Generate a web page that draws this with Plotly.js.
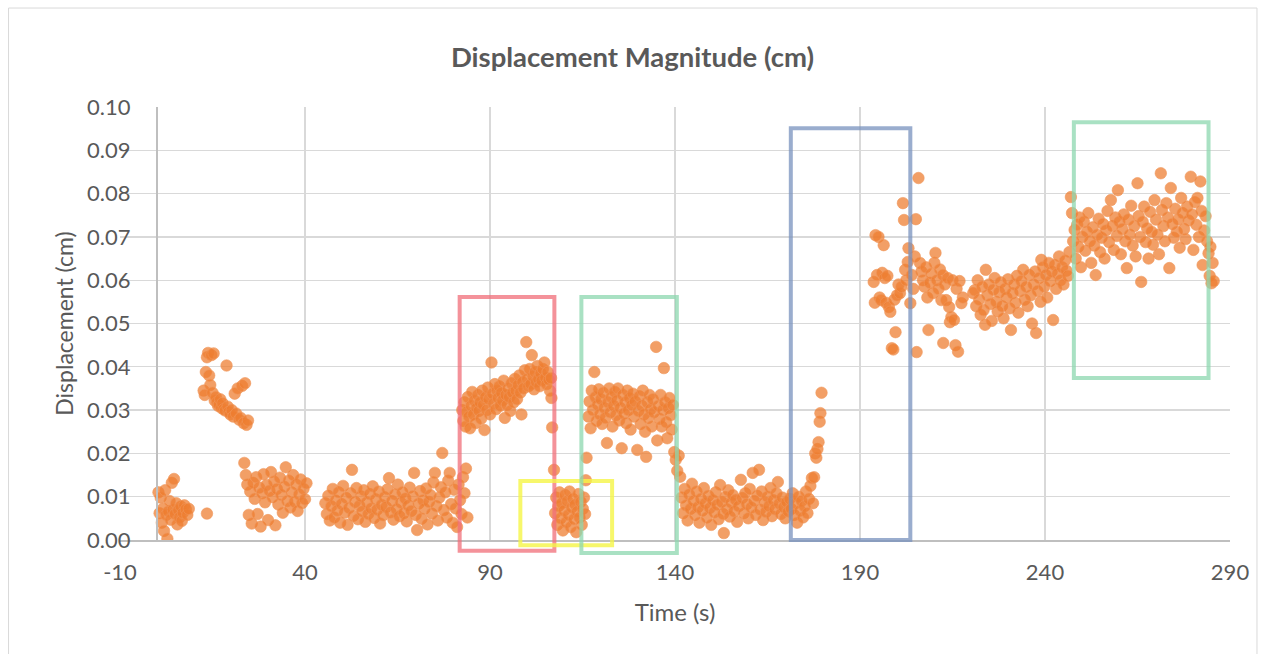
<!DOCTYPE html>
<html>
<head>
<meta charset="utf-8">
<script src="https://cdn.plot.ly/plotly-3.0.1.min.js"></script>
<style>
  html, body { margin: 0; padding: 0; background: #ffffff; }
  #chart { width: 1265px; height: 654px; }
</style>
</head>
<body>
<div id="chart"></div>
<script>
// Displacement magnitude samples, grouped by phase of the test run.
// Each phase: time in seconds and displacement in cm.
const restStartT = [0.4,0.7,1.0,1.3,1.6,1.9,2.2,2.5,2.8,3.1,3.4,3.7,4.0,4.3,4.6,4.9,5.2,5.5,5.8,6.1,6.4,6.7,7.0,7.4,7.8,8.2,8.6,13.5];
const restStartD = [0.0110,0.0062,0.0098,0.0040,0.0072,0.0021,0.0115,0.0058,0.0003,0.0066,0.0090,0.0047,0.0132,0.0070,0.0141,0.0060,0.0085,0.0036,0.0069,0.0052,0.0078,0.0044,0.0063,0.0080,0.0071,0.0058,0.0072,0.0061];

const pulseOneT = [12.6,12.9,13.2,13.5,13.8,14.1,14.4,14.7,15.0,15.3,15.6,15.9,16.2,16.5,16.8,17.1,17.4,17.7,18.0,18.4,18.8,19.1,19.4,19.8,20.2,20.6,21.0,21.4,21.8,22.2,22.6,23.0,23.4,23.8,24.2,24.6];
const pulseOneD = [0.0345,0.0335,0.0388,0.0422,0.0432,0.0380,0.0358,0.0427,0.0340,0.0431,0.0322,0.0330,0.0318,0.0310,0.0312,0.0325,0.0305,0.0316,0.0302,0.0299,0.0403,0.0308,0.0296,0.0290,0.0300,0.0285,0.0338,0.0292,0.0350,0.0278,0.0282,0.0356,0.0270,0.0362,0.0266,0.0276];

const settleOneT = [23.6,24.0,24.4,24.8,25.2,25.6,26.0,26.4,26.8,27.2,27.6,28.0,28.4,28.8,29.2,29.6,30.0,30.4,30.8,31.2,31.6,32.0,32.4,32.8,33.2,33.6,34.0,34.4,34.8,35.2,35.6,36.0,36.4,36.8,37.2,37.6,38.0,38.4,38.8,39.2,39.6,40.0,40.4];
const settleOneD = [0.0178,0.0150,0.0128,0.0058,0.0112,0.0038,0.0132,0.0095,0.0145,0.0060,0.0121,0.0031,0.0108,0.0152,0.0087,0.0127,0.0046,0.0114,0.0157,0.0099,0.0135,0.0034,0.0118,0.0082,0.0144,0.0104,0.0063,0.0123,0.0168,0.0090,0.0137,0.0075,0.0110,0.0150,0.0088,0.0128,0.0067,0.0105,0.0140,0.0085,0.0118,0.0094,0.0131];

const baselineT = [45.5,45.9,46.3,46.7,47.1,47.5,47.9,48.3,48.7,49.1,49.5,49.9,50.3,50.7,51.1,51.5,51.9,52.3,52.7,53.1,53.5,53.9,54.3,54.7,55.1,55.5,55.9,56.3,56.7,57.1,57.5,57.9,58.3,58.7,59.1,59.5,59.9,60.3,60.7,61.1,61.5,61.9,62.3,62.7,63.1,63.5,63.9,64.3,64.7,65.1,65.5,65.9,66.3,66.7,67.1,67.5,67.9,68.3,68.7,69.1,69.5,69.9,70.3,70.7,71.1,71.5,71.9,72.3,72.7,73.1,73.5,73.9,74.3,74.7,75.1,75.5,75.9,76.3,76.7,77.1,77.5,77.9,78.3,78.7,79.1,79.5,79.9,80.3,80.7,81.1,81.5,81.9,82.3,82.7,83.1,83.5,83.9];
const baselineD = [0.0085,0.0060,0.0102,0.0045,0.0078,0.0118,0.0052,0.0091,0.0068,0.0110,0.0040,0.0083,0.0125,0.0063,0.0097,0.0035,0.0074,0.0108,0.0162,0.0056,0.0088,0.0120,0.0048,0.0079,0.0101,0.0066,0.0115,0.0042,0.0087,0.0060,0.0106,0.0073,0.0124,0.0051,0.0094,0.0070,0.0112,0.0038,0.0081,0.0057,0.0099,0.0076,0.0117,0.0143,0.0064,0.0090,0.0047,0.0105,0.0071,0.0128,0.0055,0.0086,0.0110,0.0062,0.0096,0.0043,0.0080,0.0121,0.0067,0.0101,0.0155,0.0058,0.0023,0.0084,0.0113,0.0049,0.0092,0.0072,0.0119,0.0036,0.0088,0.0104,0.0061,0.0133,0.0155,0.0078,0.0045,0.0098,0.0122,0.0201,0.0069,0.0110,0.0052,0.0137,0.0155,0.0083,0.0040,0.0116,0.0073,0.0030,0.0128,0.0092,0.0060,0.0145,0.0108,0.0165,0.0052];

const loadOneT = [82.5,82.8,83.1,83.4,83.7,84.0,84.3,84.6,84.9,85.2,85.5,85.8,86.1,86.4,86.7,87.0,87.3,87.6,87.9,88.2,88.5,88.8,89.1,89.4,89.7,90.0,90.4,90.7,91.0,91.3,91.6,91.9,92.2,92.5,92.8,93.1,93.4,93.7,94.0,94.3,94.6,94.9,95.2,95.5,95.8,96.1,96.4,96.7,97.0,97.3,97.6,97.9,98.2,98.5,98.8,99.1,99.4,99.8,100.1,100.4,100.7,101.0,101.3,101.6,101.9,102.2,102.5,102.8,103.1,103.4,103.7,104.0,104.3,104.7,105.0,105.3,105.6,105.9,106.2,106.5,106.6,106.8,107.3];
const loadOneD = [0.0300,0.0275,0.0318,0.0262,0.0296,0.0330,0.0285,0.0258,0.0310,0.0342,0.0290,0.0322,0.0270,0.0305,0.0335,0.0298,0.0318,0.0280,0.0345,0.0312,0.0254,0.0330,0.0300,0.0352,0.0325,0.0290,0.0410,0.0338,0.0315,0.0360,0.0302,0.0345,0.0328,0.0355,0.0310,0.0340,0.0322,0.0368,0.0282,0.0335,0.0312,0.0350,0.0330,0.0298,0.0362,0.0340,0.0318,0.0372,0.0345,0.0325,0.0358,0.0380,0.0340,0.0290,0.0365,0.0350,0.0392,0.0457,0.0372,0.0355,0.0395,0.0360,0.0427,0.0378,0.0348,0.0388,0.0365,0.0402,0.0372,0.0355,0.0385,0.0368,0.0395,0.0410,0.0375,0.0360,0.0388,0.0370,0.0345,0.0374,0.0328,0.0260,0.0162];

const pauseT = [107.6,107.9,108.2,108.5,108.8,109.1,109.4,109.7,110.0,110.3,110.6,110.9,111.2,111.5,111.8,112.1,112.4,112.7,113.0,113.3,113.6,113.9,114.2,114.5,114.8,115.1,115.4,115.7,115.9,116.1];
const pauseD = [0.0062,0.0098,0.0035,0.0078,0.0110,0.0050,0.0085,0.0022,0.0068,0.0104,0.0041,0.0090,0.0058,0.0112,0.0030,0.0075,0.0095,0.0048,0.0082,0.0018,0.0066,0.0106,0.0052,0.0088,0.0035,0.0072,0.0098,0.0060,0.0138,0.0190];

const loadTwoT = [116.6,116.9,117.2,117.5,117.8,118.2,118.5,118.8,119.1,119.4,119.7,120.0,120.3,120.6,120.9,121.2,121.6,121.9,122.2,122.5,122.8,123.1,123.4,123.7,124.0,124.3,124.6,124.9,125.2,125.6,125.9,126.2,126.5,126.8,127.1,127.4,127.7,128.0,128.3,128.6,128.9,129.2,129.8,130.1,130.4,130.7,131.0,131.3,131.6,131.9,132.2,132.5,132.8,133.1,133.4,133.7,134.0,134.3,134.9,135.2,135.5,135.8,136.1,136.4,136.7,137.0,137.3,137.6,137.9,138.2,138.5,138.8,139.1,139.4,139.8,140.2,140.6,141.0,141.4];
const loadTwoD = [0.0285,0.0320,0.0258,0.0345,0.0300,0.0388,0.0330,0.0275,0.0312,0.0348,0.0290,0.0325,0.0268,0.0340,0.0305,0.0282,0.0224,0.0318,0.0350,0.0295,0.0330,0.0262,0.0310,0.0342,0.0288,0.0322,0.0350,0.0276,0.0305,0.0212,0.0335,0.0292,0.0318,0.0270,0.0345,0.0300,0.0328,0.0255,0.0312,0.0338,0.0285,0.0320,0.0208,0.0298,0.0332,0.0268,0.0310,0.0345,0.0290,0.0250,0.0192,0.0318,0.0282,0.0335,0.0302,0.0262,0.0325,0.0295,0.0446,0.0230,0.0310,0.0280,0.0335,0.0262,0.0300,0.0397,0.0318,0.0272,0.0235,0.0305,0.0328,0.0288,0.0255,0.0312,0.0203,0.0185,0.0160,0.0195,0.0146];

const settleTwoT = [141.8,142.2,142.6,143.0,143.4,143.8,144.2,144.6,145.0,145.4,145.8,146.2,146.6,147.0,147.4,147.8,148.2,148.6,149.0,149.4,149.8,150.2,150.6,151.0,151.4,151.8,152.2,152.6,153.0,153.2,153.6,154.0,154.4,154.8,155.2,155.6,156.0,156.4,156.8,157.2,157.8,158.2,158.6,159.0,159.4,159.8,160.2,160.6,161.0,161.4,161.8,162.2,162.7,163.0,163.4,163.8,164.2,164.6,165.0,165.4,165.8,166.2,166.6,167.0,167.4,167.8,168.2,168.6,169.0,169.4,169.8,170.2,170.6,171.0,171.4,171.8,172.2,172.6,173.0,173.4,173.8,174.2,174.6,175.0,175.4,175.8,176.2];
const settleTwoD = [0.0098,0.0062,0.0118,0.0080,0.0045,0.0105,0.0072,0.0130,0.0090,0.0058,0.0112,0.0076,0.0040,0.0095,0.0068,0.0120,0.0085,0.0052,0.0102,0.0074,0.0035,0.0092,0.0064,0.0110,0.0081,0.0048,0.0127,0.0088,0.0060,0.0016,0.0099,0.0071,0.0115,0.0054,0.0086,0.0104,0.0066,0.0093,0.0042,0.0078,0.0139,0.0097,0.0062,0.0108,0.0083,0.0050,0.0118,0.0075,0.0155,0.0090,0.0058,0.0102,0.0162,0.0070,0.0112,0.0046,0.0087,0.0065,0.0100,0.0078,0.0120,0.0055,0.0092,0.0071,0.0108,0.0134,0.0084,0.0060,0.0098,0.0076,0.0050,0.0088,0.0066,0.0095,0.0072,0.0108,0.0058,0.0085,0.0040,0.0100,0.0068,0.0090,0.0052,0.0078,0.0112,0.0062,0.0095];

const rampT = [176.6,177.0,177.3,177.6,177.9,178.2,178.5,178.8,179.1,179.3,179.6];
const rampD = [0.0125,0.0143,0.0085,0.0145,0.0200,0.0190,0.0210,0.0226,0.0273,0.0293,0.0340];

const loadThreeT = [193.7,194.0,194.2,194.6,195.0,195.3,195.7,196.0,196.4,196.7,197.0,197.4,197.8,198.2,198.6,199.0,199.3,199.6,200.0,200.4,200.8,201.2,201.6,201.9,202.2,202.5,202.9,203.1,203.6,204.0,204.4,204.8,205.1,205.3,205.8,206.2,206.6,207.0,207.4,207.8,208.2,208.5,208.9,209.3,209.7,210.1,210.4,210.8,211.2,211.6,212.0,212.4,212.5,212.9,213.3,213.7,214.1,214.3,214.7,215.0,215.4,215.8,216.1,216.5,216.9,217.4,217.8];
const loadThreeD = [0.0596,0.0548,0.0704,0.0612,0.0700,0.0560,0.0554,0.0617,0.0681,0.0605,0.0548,0.0610,0.0538,0.0527,0.0443,0.0440,0.0555,0.0480,0.0565,0.0590,0.0570,0.0585,0.0778,0.0739,0.0624,0.0600,0.0642,0.0674,0.0547,0.0612,0.0580,0.0655,0.0741,0.0434,0.0836,0.0640,0.0620,0.0600,0.0585,0.0630,0.0560,0.0485,0.0594,0.0615,0.0570,0.0640,0.0663,0.0600,0.0580,0.0625,0.0554,0.0612,0.0455,0.0590,0.0554,0.0605,0.0538,0.0503,0.0515,0.0600,0.0508,0.0450,0.0580,0.0435,0.0598,0.0547,0.0560];

const holdT = [220.6,221.0,221.4,221.8,222.2,222.6,223.0,223.4,223.8,224.0,224.4,224.8,225.2,225.6,226.0,226.4,226.8,227.2,227.6,228.0,228.4,228.8,229.2,229.6,230.0,230.4,230.8,231.2,231.6,232.0,232.4,232.8,233.2,233.6,234.1,234.5,234.9,235.3,235.7,236.1,236.5,236.9,237.3,237.6,238.0,238.4,238.8,239.0,239.4,239.8,240.2,240.6,241.0,241.4,241.8,242.2,242.6,243.0,243.4,243.8,244.2,244.6,245.0,245.4,245.8,246.2,246.6];
const holdD = [0.0570,0.0577,0.0540,0.0600,0.0555,0.0520,0.0585,0.0531,0.0497,0.0624,0.0565,0.0590,0.0545,0.0506,0.0578,0.0605,0.0550,0.0528,0.0572,0.0595,0.0540,0.0512,0.0580,0.0560,0.0602,0.0535,0.0485,0.0570,0.0590,0.0548,0.0610,0.0525,0.0575,0.0598,0.0624,0.0555,0.0585,0.0540,0.0612,0.0565,0.0500,0.0590,0.0620,0.0478,0.0575,0.0605,0.0550,0.0647,0.0630,0.0585,0.0612,0.0560,0.0640,0.0598,0.0620,0.0508,0.0635,0.0580,0.0615,0.0655,0.0600,0.0630,0.0590,0.0645,0.0622,0.0610,0.0665];

const loadFourT = [247.0,247.3,247.6,248.0,248.3,248.7,249.0,249.3,249.7,250.1,250.5,250.9,251.3,251.7,252.1,252.5,252.9,253.3,253.7,254.1,254.5,254.9,255.3,255.7,256.1,256.5,256.9,257.3,257.8,258.2,258.6,259.0,259.4,259.7,260.1,260.5,260.9,261.3,261.7,262.1,262.5,262.9,263.3,263.7,264.1,264.5,265.0,265.3,265.7,266.0,266.4,266.8,267.2,267.6,268.0,268.4,268.8,269.2,269.6,270.0,270.4,270.8,271.3,271.6,272.0,272.4,272.8,273.2,273.6,274.0,274.4,274.8,275.2,275.6,276.0,276.4,276.8,277.2,277.6,278.0,278.4,278.8,279.4,279.7,280.1,280.5,280.9,281.2,281.6,282.0,282.3,282.6,283.0,283.4,283.8,284.2,284.5,284.7,285.0,285.3,285.6];
const loadFourD = [0.0792,0.0755,0.0690,0.0716,0.0650,0.0728,0.0677,0.0745,0.0630,0.0700,0.0735,0.0668,0.0712,0.0755,0.0690,0.0640,0.0722,0.0680,0.0612,0.0705,0.0742,0.0665,0.0698,0.0730,0.0650,0.0715,0.0760,0.0688,0.0785,0.0725,0.0670,0.0745,0.0702,0.0808,0.0735,0.0660,0.0718,0.0752,0.0690,0.0628,0.0740,0.0705,0.0772,0.0680,0.0725,0.0655,0.0824,0.0748,0.0700,0.0596,0.0735,0.0770,0.0688,0.0720,0.0650,0.0758,0.0712,0.0682,0.0785,0.0740,0.0705,0.0660,0.0847,0.0762,0.0725,0.0690,0.0778,0.0745,0.0628,0.0813,0.0730,0.0698,0.0765,0.0712,0.0740,0.0675,0.0790,0.0755,0.0718,0.0695,0.0770,0.0738,0.0839,0.0752,0.0670,0.0780,0.0728,0.0790,0.0700,0.0828,0.0760,0.0635,0.0715,0.0748,0.0690,0.0662,0.0610,0.0677,0.0593,0.0640,0.0598];

// Highlight boxes: [tStart, tEnd, dLow, dHigh, colour]
const boxStart = [81.8, 98.2, 114.7, 171.3, 247.8];
const boxEnd   = [107.4, 123.0, 140.5, 203.6, 284.2];
const boxLow   = [-0.0025, -0.0012, -0.003, 0.0, 0.0374];
const boxHigh  = [0.0561, 0.0136, 0.0561, 0.0951, 0.0965];
const boxColor = ['rgba(240,110,120,0.75)', 'rgba(245,245,70,0.8)', 'rgba(140,215,175,0.75)', 'rgba(120,145,190,0.75)', 'rgba(140,215,175,0.75)'];

const xTicks = [-10, 40, 90, 140, 190, 240, 290];
const yTicks = [0, 0.01, 0.02, 0.03, 0.04, 0.05, 0.06, 0.07, 0.08, 0.09, 0.10];

const timeAll = [].concat(restStartT, pulseOneT, settleOneT, baselineT, loadOneT, pauseT, loadTwoT, settleTwoT, rampT, loadThreeT, holdT, loadFourT);
const dispAll = [].concat(restStartD, pulseOneD, settleOneD, baselineD, loadOneD, pauseD, loadTwoD, settleTwoD, rampD, loadThreeD, holdD, loadFourD);

const X_MIN = -10, X_MAX = 290, Y_MIN = 0, Y_MAX = 0.10;
const textGrey = '#595959';
const fontFamily = 'Lato, "Open Sans", sans-serif';

const trace = {
  type: 'scatter',
  mode: 'markers',
  x: timeAll,
  y: dispAll,
  marker: {
    size: 11.5,
    color: 'rgba(237,125,49,0.74)',
    line: { width: 1, color: 'rgba(240,150,90,0.6)' }
  },
  hoverinfo: 'x+y',
  showlegend: false
};

// Boxes use x in data units and y as a fraction of the axis span so they may
// extend slightly past the zero line.
const shapes = boxStart.map((t0, i) => ({
  type: 'rect',
  xref: 'x', yref: 'paper',
  x0: t0, x1: boxEnd[i],
  y0: (boxLow[i] - Y_MIN) / (Y_MAX - Y_MIN),
  y1: (boxHigh[i] - Y_MIN) / (Y_MAX - Y_MIN),
  line: { color: boxColor[i], width: 4 },
  fillcolor: 'rgba(0,0,0,0)',
  layer: 'above'
}));

// Outer chart border
shapes.push({
  type: 'rect', xref: 'paper', yref: 'paper',
  x0: -0.1004, x1: 1.0243, y0: -0.29, y1: 1.2286,
  line: { color: '#d9d9d9', width: 1 },
  fillcolor: 'rgba(0,0,0,0)',
  layer: 'below'
});

const layout = {
  width: 1265,
  height: 654,
  margin: { l: 119.5, r: 35, t: 107, b: 114 },
  paper_bgcolor: '#ffffff',
  plot_bgcolor: '#ffffff',
  font: { family: fontFamily, color: textGrey },
  title: {
    text: '<b>Displacement Magnitude (cm)</b>',
    font: { family: fontFamily, size: 27.5, color: textGrey },
    x: 0.5, xanchor: 'center',
    y: 1 - 57 / 654, yanchor: 'middle'
  },
  xaxis: {
    range: [X_MIN, X_MAX],
    tickvals: xTicks,
    ticktext: xTicks.map(String),
    showgrid: true,
    gridcolor: '#d9d9d9',
    gridwidth: 1.3,
    zeroline: false,
    showline: true,
    linecolor: '#bfbfbf',
    linewidth: 1.5,
    ticks: '',
    ticklabelstandoff: 12,
    tickfont: { family: fontFamily, size: 22, color: textGrey },
    title: {
      text: 'Time (s)',
      font: { family: fontFamily, size: 24, color: textGrey },
      standoff: 20
    }
  },
  yaxis: {
    range: [Y_MIN, Y_MAX],
    tickvals: yTicks,
    tickformat: '.2f',
    showgrid: true,
    gridcolor: '#d9d9d9',
    gridwidth: 1.3,
    zeroline: false,
    showline: true,
    linecolor: '#bfbfbf',
    linewidth: 2,
    anchor: 'free',
    position: (0 - X_MIN) / (X_MAX - X_MIN),
    ticks: '',
    ticklabelstandoff: 21,
    tickfont: { family: fontFamily, size: 22, color: textGrey },
    title: {
      text: 'Displacement (cm)',
      font: { family: fontFamily, size: 23, color: textGrey },
      standoff: 6
    }
  },
  shapes: shapes
};

Plotly.newPlot('chart', [trace], layout, { displayModeBar: false, staticPlot: true });
</script>
</body>
</html>
